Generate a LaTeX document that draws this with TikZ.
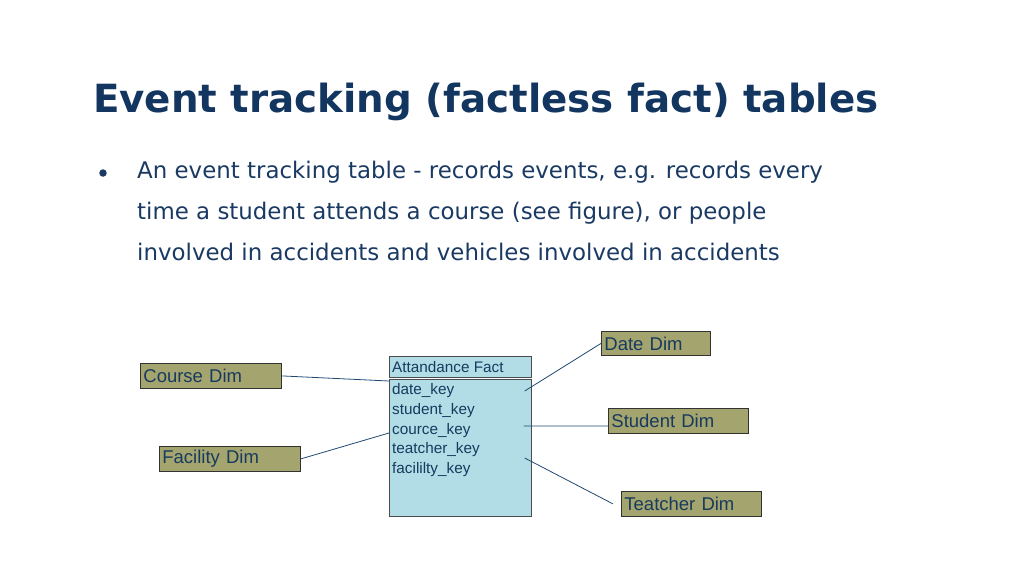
\documentclass[tikz,border=0pt]{standalone}
\usepackage{fontspec}
\setmainfont{DejaVu Sans}
\newfontfamily\arialf{Liberation Sans}
\usetikzlibrary{calc}
\definecolor{titleblue}{HTML}{12365F}
\definecolor{textblue}{HTML}{1A3A63}
\definecolor{boxtext}{HTML}{173A5E}
\definecolor{olive}{HTML}{A4A46E}
\definecolor{tabfill}{HTML}{B2DDE6}
\definecolor{linkblue}{HTML}{1F4A72}
\tikzset{
  dimbox/.style={draw=black!80, line width=0.8pt, fill=olive, anchor=north west,
    inner xsep=3pt, inner ysep=0pt, font=\arialf\fontsize{18.5}{20}\selectfont,
    text=boxtext, align=left},
  tabbox/.style={draw=black!70, line width=0.7pt, fill=tabfill, anchor=north west, inner sep=0pt},
  rowtext/.style={anchor=base west, inner sep=0pt, font=\arialf\fontsize{15.3}{16}\selectfont, text=boxtext},
  bodytext/.style={anchor=base west, inner sep=0pt, text=textblue, font=\fontsize{22.9}{26}\selectfont},
  link/.style={draw=linkblue, line width=0.8pt}
}
\begin{document}
\begin{tikzpicture}[x=1pt,y=-1pt]
\useasboundingbox (0,0) rectangle (1024,576);
% title
\node[anchor=base west, inner sep=0pt, text=titleblue, font=\fontsize{38.8}{44}\selectfont\bfseries] (title) at (93,112) {Event tracking (factless fact) tables};
% bullet
\node[circle, fill=textblue, inner sep=0pt, minimum size=7.5pt] (dot) at (103,173) {};
\node[bodytext] (l1) at (137,178) {An event tracking table - records events, e.g. records every};
\node[bodytext] (l2) at (137,219) {time a student attends a course (see figure), or people};
\node[bodytext] (l3) at (137,260) {involved in accidents and vehicles involved in accidents};
% table
\node[tabbox, minimum width=142pt, minimum height=21pt] (head) at (389,356) {};
\node[rowtext] (htext) at (392,372) {Attandance Fact};
\node[tabbox, minimum width=142pt, minimum height=137pt] (body) at (389,379) {};
\node[rowtext] (r1) at (392,394) {date\_key};
\node[rowtext] (r2) at (392,414) {student\_key};
\node[rowtext] (r3) at (392,434) {cource\_key};
\node[rowtext] (r4) at (392,453) {teatcher\_key};
\node[rowtext] (r5) at (392,473) {facililty\_key};
% dims
\node[dimbox, minimum width=109pt, minimum height=24pt, text width=103pt] (dd) at (601,331) {Date Dim};
\node[dimbox, minimum width=141pt, minimum height=25pt, text width=135pt] (cd) at (140,363) {Course Dim};
\node[dimbox, minimum width=140pt, minimum height=25pt, text width=134pt] (sd) at (608,408) {Student Dim};
\node[dimbox, minimum width=141pt, minimum height=25pt, text width=135pt] (fd) at (159,446) {Facility Dim};
\node[dimbox, minimum width=140pt, minimum height=25pt, text width=134pt] (td) at (621,491) {Teatcher Dim};
% anchor points on table
\coordinate (cIn) at ($(body.north west)+(0,2)$);
\coordinate (fIn) at ($(body.north west)+(0,54)$);
\coordinate (dIn) at ($(body.north east)+(-7,12)$);
\coordinate (sIn) at ($(body.north east)+(-8,47)$);
\coordinate (tIn) at ($(body.north east)+(-7,79)$);
\coordinate (tOut) at ($(td.west)+(-8,0)$);
% links
\draw[link] (cd.east) -- (cIn);
\draw[link] (fd.east) -- (fIn);
\draw[link] (dd.west) -- (dIn);
\draw[link] ($(sd.west)+(0,5)$) -- (sIn);
\draw[link] (tOut) -- (tIn);
\end{tikzpicture}
\end{document}
